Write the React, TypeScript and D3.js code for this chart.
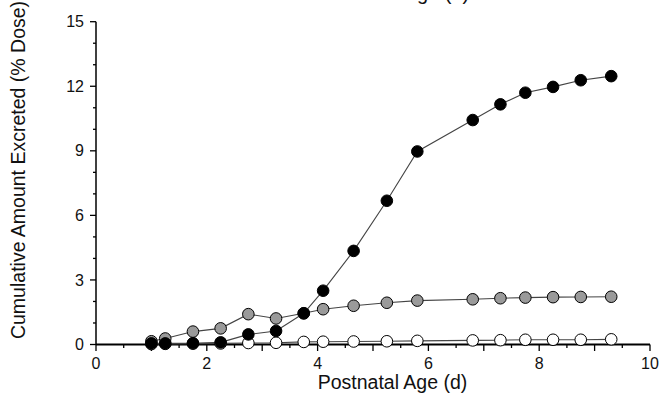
import React from "react";
import * as d3 from "d3";

const days = [1.0, 1.25, 1.75, 2.25, 2.75, 3.25, 3.75, 4.1, 4.65, 5.25, 5.8, 6.8, 7.3, 7.75, 8.25, 8.75, 9.3];
const blackSeries = [0.05, 0.05, 0.06, 0.1, 0.47, 0.63, 1.45, 2.5, 4.35, 6.68, 8.97, 10.43, 11.16, 11.7, 11.97, 12.28, 12.47];
const graySeries = [0.15, 0.28, 0.6, 0.75, 1.41, 1.21, 1.45, 1.64, 1.8, 1.94, 2.04, 2.1, 2.15, 2.18, 2.2, 2.21, 2.22];
const whiteSeries = [0.02, 0.03, 0.04, 0.05, 0.07, 0.08, 0.12, 0.13, 0.14, 0.15, 0.17, 0.19, 0.2, 0.22, 0.22, 0.22, 0.24];
const xTickLabels = [0, 2, 4, 6, 8, 10];
const yTickLabels = [0, 3, 6, 9, 12, 15];
const xLabel = "Postnatal Age (d)";
const yLabel = "Cumulative Amount Excreted (% Dose)";

const series = [
  { name: "white", values: whiteSeries, fill: "#ffffff" },
  { name: "gray", values: graySeries, fill: "#9a9a9a" },
  { name: "black", values: blackSeries, fill: "#000000" },
];

export default function App() {
  const W = 670, H = 399;
  const x = d3.scaleLinear().domain([0, 10]).range([96, 650]);
  const y = d3.scaleLinear().domain([0, 15]).range([344.5, 21.7]);
  const line = d3
    .line<[number, number]>()
    .x((d) => x(d[0]))
    .y((d) => y(d[1]));
  const xMinor = d3.range(0, 10.01, 0.5);
  const yMinor = d3.range(0, 15.01, 1);
  const font = "Arial, 'Liberation Sans', Helvetica, sans-serif";

  return (
    <svg
      width={W}
      height={H}
      style={{ position: "absolute", left: 0, top: 0, background: "#fff" }}
      fontFamily={font}
    >
      <rect x={0} y={0} width={W} height={H} fill="#fff" />
      {/* clipped top title (cut off at the top edge, as in the reference) */}
      <text x={392.5} y={-0.5} textAnchor="middle" fontSize={20} fill="#111">
        {xLabel}
      </text>

      {/* x axis ticks */}
      {xMinor.map((v) => {
        const major = Math.abs(v - Math.round(v)) < 1e-6;
        return (
          <line
            key={"xt" + v}
            x1={x(v)}
            x2={x(v)}
            y1={y(0)}
            y2={y(0) + (major ? 6.5 : 3.5)}
            stroke="#000"
            strokeWidth={1.3}
          />
        );
      })}
      {xTickLabels.map((v) => (
        <text key={"xl" + v} x={x(v)} y={369} textAnchor="middle" fontSize={16} fill="#111">
          {v}
        </text>
      ))}
      {/* y axis ticks */}
      {yMinor.map((v) => {
        const major = v % 3 === 0;
        return (
          <line
            key={"yt" + v}
            x1={x(0)}
            x2={x(0) - (major ? 6 : 3)}
            y1={y(v)}
            y2={y(v)}
            stroke="#000"
            strokeWidth={1.3}
          />
        );
      })}
      {yTickLabels.map((v) => (
        <text
          key={"yl" + v}
          x={84}
          y={y(v)}
          dy="0.35em"
          textAnchor="end"
          fontSize={16}
          fill="#111"
        >
          {v}
        </text>
      ))}
      <line x1={x(0)} x2={x(0)} y1={y(0)} y2={y(15)} stroke="#000" strokeWidth={1.5} />
      <line x1={x(0)} x2={x(10)} y1={y(0)} y2={y(0)} stroke="#000" strokeWidth={2} />

      {/* series */}
      {series.map((s) => {
        const pts: [number, number][] = days.map((d, i) => [d, s.values[i]]);
        return (
          <g key={s.name}>
            <path d={line(pts) || ""} fill="none" stroke="#444" strokeWidth={1.1} />
            {pts.map((p, i) => (
              <circle
                key={i}
                cx={x(p[0])}
                cy={y(p[1])}
                r={5.8}
                fill={s.fill}
                stroke="#000"
                strokeWidth={1}
              />
            ))}
          </g>
        );
      })}

      {/* axis labels */}
      <text x={392.5} y={389} textAnchor="middle" fontSize={19.5} fill="#111">
        {xLabel}
      </text>
      <text
        transform={`translate(25,170) rotate(-90)`}
        textAnchor="middle"
        fontSize={19.5}
        fill="#111"
      >
        {yLabel}
      </text>
    </svg>
  );
}
